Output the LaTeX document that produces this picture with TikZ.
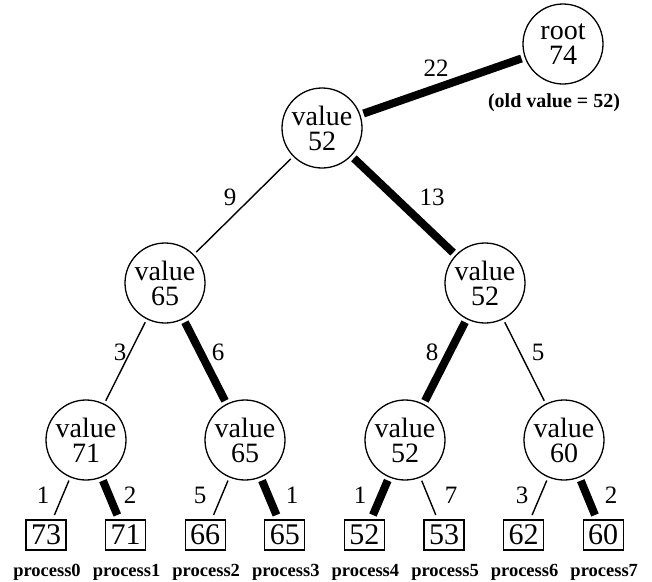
\documentclass[tikz,border=0pt]{standalone}
\usepackage{fontspec}
\setmainfont{Liberation Serif}
\begin{document}
\begin{tikzpicture}[x=1pt,y=-1pt,
  tnode/.style={circle,draw,line width=1.3pt,minimum size=80pt,inner sep=0pt,outer sep=4pt,align=center,font=\fontsize{28}{25}\selectfont},
  leaf/.style={draw,line width=1.2pt,minimum width=40pt,minimum height=30pt,inner sep=0pt,outer sep=5pt,font=\fontsize{30}{30}\selectfont},
  plabel/.style={inner sep=0pt,font=\bfseries\fontsize{18.5}{18.5}\selectfont},
  elabel/.style={inner sep=0pt,font=\fontsize{25}{25}\selectfont},
  heavyedge/.style={line width=8pt},
  lightedge/.style={line width=1.4pt}]
\useasboundingbox (0,0) rectangle (652,581);
% tree nodes
\node[tnode] (root) at (563,44) {root\\74};
\node[inner sep=0pt,font=\bfseries\fontsize{20}{20}\selectfont] (old) at (554,103) {(old value = 52)};
\node[tnode] (a) at (322,128) {value\\52};
\node[tnode] (b1) at (165,283) {value\\65};
\node[tnode] (b2) at (485,283) {value\\52};
\node[tnode] (c1) at (86,440) {value\\71};
\node[tnode] (c2) at (245,440) {value\\65};
\node[tnode] (c3) at (405,440) {value\\52};
\node[tnode] (c4) at (564,440) {value\\60};
% leaves
\node[leaf] (p0) at (46,535) {73};
\node[leaf] (p1) at (125.6,535) {71};
\node[leaf] (p2) at (205.2,535) {66};
\node[leaf] (p3) at (284.8,535) {65};
\node[leaf] (p4) at (364.4,535) {52};
\node[leaf] (p5) at (444,535) {53};
\node[leaf] (p6) at (523.6,535) {62};
\node[leaf] (p7) at (603.2,535) {60};
\node[plabel] (l0) at (47,572) {process0};
\node[plabel] (l1) at (126.6,572) {process1};
\node[plabel] (l2) at (206.2,572) {process2};
\node[plabel] (l3) at (285.8,572) {process3};
\node[plabel] (l4) at (365.4,572) {process4};
\node[plabel] (l5) at (445,572) {process5};
\node[plabel] (l6) at (524.6,572) {process6};
\node[plabel] (l7) at (604.2,572) {process7};
% edges
\draw[heavyedge] (a) -- (root);
\draw[lightedge] (a) -- (b1);
\draw[heavyedge] (a) -- (b2);
\draw[lightedge] (b1) -- (c1);
\draw[heavyedge] (b1) -- (c2);
\draw[heavyedge] (b2) -- (c3);
\draw[lightedge] (b2) -- (c4);
\draw[lightedge] (c1) -- (p0);
\draw[heavyedge] (c1) -- (p1);
\draw[lightedge] (c2) -- (p2);
\draw[heavyedge] (c2) -- (p3);
\draw[heavyedge] (c3) -- (p4);
\draw[lightedge] (c3) -- (p5);
\draw[lightedge] (c4) -- (p6);
\draw[heavyedge] (c4) -- (p7);
% edge labels
\node[elabel] (w0) at (436,68) {22};
\node[elabel] (w1) at (230,197) {9};
\node[elabel] (w2) at (432,197) {13};
\node[elabel] (w3) at (120,352) {3};
\node[elabel] (w4) at (218,352) {6};
\node[elabel] (w5) at (432,352) {8};
\node[elabel] (w6) at (538,352) {5};
\node[elabel] (w7) at (43,495) {1};
\node[elabel] (w8) at (130,495) {2};
\node[elabel] (w9) at (200,495) {5};
\node[elabel] (w10) at (292,495) {1};
\node[elabel] (w11) at (360,495) {1};
\node[elabel] (w12) at (451,495) {7};
\node[elabel] (w13) at (522,495) {3};
\node[elabel] (w14) at (611,495) {2};
\end{tikzpicture}
\end{document}
